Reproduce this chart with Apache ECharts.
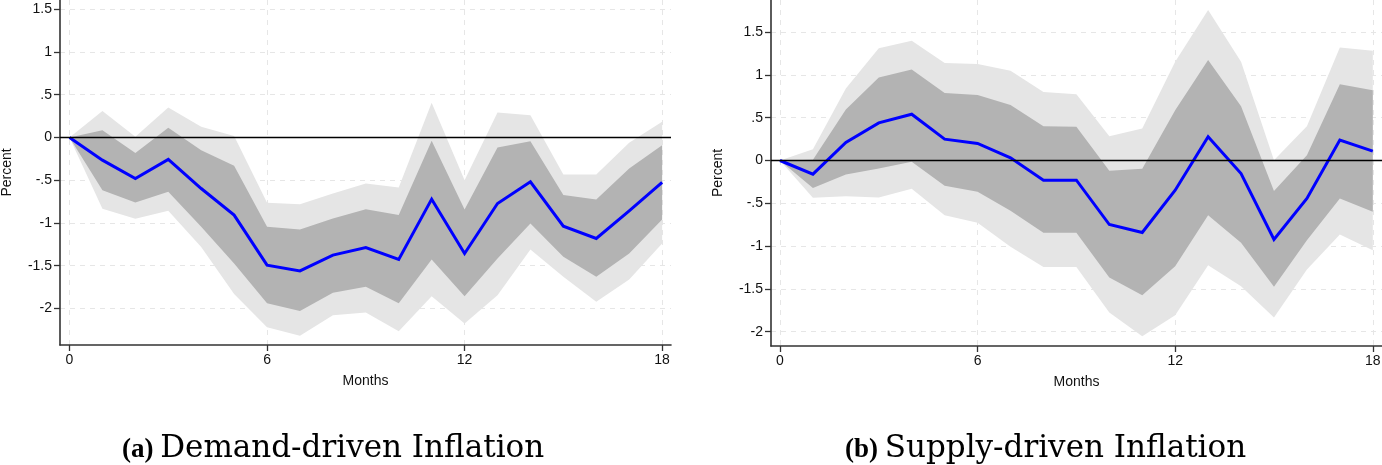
<!DOCTYPE html>
<html>
<head>
<meta charset="utf-8">
<script src="https://cdn.jsdelivr.net/npm/echarts@6/dist/echarts.min.js"></script>
<style>
  html, body { margin: 0; padding: 0; background: #fff; }
  #chart { width: 1382px; height: 465px; }
</style>
</head>
<body>
<div id="chart"></div>
<script>
// ---------------- data ----------------
const months = [0, 1, 2, 3, 4, 5, 6, 7, 8, 9, 10, 11, 12, 13, 14, 15, 16, 17, 18];
const xTickValues = [0, 6, 12, 18];

// (a) Demand-driven inflation
const demandIrf  = [0, -0.265, -0.48, -0.257, -0.597, -0.908, -1.493, -1.56, -1.376, -1.287, -1.427, -0.721, -1.357, -0.772, -0.519, -1.037, -1.181, -0.858, -0.526];
const demandHi68 = [0, 0.086, -0.18, 0.113, -0.148, -0.331, -1.045, -1.076, -0.947, -0.838, -0.908, -0.039, -0.842, -0.117, -0.043, -0.674, -0.725, -0.363, -0.09];
const demandLo68 = [0, -0.616, -0.76, -0.636, -1.045, -1.474, -1.94, -2.03, -1.817, -1.747, -1.94, -1.427, -1.856, -1.415, -1.006, -1.396, -1.63, -1.357, -0.959];
const demandHi90 = [0, 0.31, 0.01, 0.35, 0.125, 0.016, -0.764, -0.78, -0.655, -0.538, -0.585, 0.405, -0.499, 0.292, 0.261, -0.433, -0.433, -0.062, 0.183];
const demandLo90 = [0, -0.834, -0.95, -0.858, -1.28, -1.83, -2.22, -2.32, -2.08, -2.047, -2.265, -1.856, -2.175, -1.844, -1.31, -1.63, -1.922, -1.661, -1.24];
const demandYTicks = [-2, -1.5, -1, -0.5, 0, 0.5, 1, 1.5];

// (b) Supply-driven inflation
const supplyIrf  = [0, -0.16, 0.21, 0.44, 0.541, 0.249, 0.199, 0.031, -0.23, -0.23, -0.748, -0.841, -0.347, 0.277, -0.152, -0.923, -0.444, 0.238, 0.109];
const supplyHi68 = [0, 0.01, 0.596, 0.97, 1.063, 0.79, 0.764, 0.647, 0.40, 0.393, -0.12, -0.097, 0.588, 1.173, 0.635, -0.355, 0.062, 0.892, 0.822];
const supplyLo68 = [0, -0.32, -0.164, -0.093, -0.016, -0.296, -0.366, -0.588, -0.845, -0.845, -1.367, -1.574, -1.235, -0.639, -0.962, -1.476, -0.931, -0.444, -0.60];
const supplyHi90 = [0, 0.13, 0.84, 1.31, 1.40, 1.14, 1.126, 1.048, 0.80, 0.775, 0.284, 0.374, 1.153, 1.757, 1.153, 0.004, 0.40, 1.32, 1.282];
const supplyLo90 = [0, -0.436, -0.417, -0.432, -0.33, -0.639, -0.728, -1.009, -1.243, -1.243, -1.776, -2.053, -1.808, -1.223, -1.469, -1.835, -1.274, -0.865, -1.048];
const supplyYTicks = [-2, -1.5, -1, -0.5, 0, 0.5, 1, 1.5];

const captionTags = ['(a)', '(b)'];
const captionTitles = ['Demand-driven Inflation', 'Supply-driven Inflation'];
const xAxisTitle = 'Months';
const yAxisTitle = 'Percent';

// ---------------- chart ----------------
const chart = echarts.init(document.getElementById('chart'), null, { renderer: 'canvas' });

const LABEL_FONT = '"Liberation Sans", Arial, Helvetica, sans-serif';
const AXIS_COLOR = '#333';
const GRID_COLOR = '#e6e6e6';
const LIGHT_BAND = '#e5e5e5';
const DARK_BAND = '#b3b3b3';

function fmtY(v) {
  if (v === 0) return '0';
  return String(v).replace('0.', '.');
}

function bandSeries(idx, lo, hi, color, z) {
  return {
    type: 'custom',
    xAxisIndex: idx, yAxisIndex: idx,
    z: z,
    silent: true,
    clip: true,
    data: months.map((m, i) => [m, lo[i], hi[i]]),
    renderItem: function (params, api) {
      if (params.dataIndex !== 0) return null;
      const pts = [];
      for (let j = 0; j < months.length; j++) pts.push(api.coord([months[j], hi[j]]));
      for (let j = months.length - 1; j >= 0; j--) pts.push(api.coord([months[j], lo[j]]));
      return { type: 'polygon', shape: { points: pts }, style: { fill: color, stroke: null } };
    }
  };
}

function panelSeries(idx, irf, lo68, hi68, lo90, hi90) {
  return [
    bandSeries(idx, lo90, hi90, LIGHT_BAND, 1),
    bandSeries(idx, lo68, hi68, DARK_BAND, 2),
    {
      type: 'line',
      xAxisIndex: idx, yAxisIndex: idx,
      z: 3,
      silent: true,
      symbol: 'none',
      data: months.map((m, i) => [m, irf[i]]),
      lineStyle: { opacity: 0 },
      markLine: {
        silent: true,
        symbol: ['none', 'none'],
        label: { show: false },
        lineStyle: { color: '#000', width: 1.3, type: 'solid' },
        data: [{ yAxis: 0 }],
        animation: false
      }
    },
    {
      type: 'line',
      xAxisIndex: idx, yAxisIndex: idx,
      z: 4,
      silent: true,
      symbol: 'none',
      data: months.map((m, i) => [m, irf[i]]),
      lineStyle: { color: '#0000ff', width: 3, join: 'miter' }
    }
  ];
}

function xAxisCfg(idx, min, max) {
  return {
    type: 'value', gridIndex: idx, min: min, max: max,
    name: xAxisTitle, nameLocation: 'middle', nameGap: 29,
    nameTextStyle: { fontFamily: LABEL_FONT, fontSize: 14, color: '#111' },
    axisLine: { show: true, onZero: false, lineStyle: { color: AXIS_COLOR, width: 1.6 } },
    axisTick: { show: true, length: 6, customValues: xTickValues, lineStyle: { color: AXIS_COLOR, width: 1.3 } },
    axisLabel: { customValues: xTickValues, margin: 8, fontFamily: LABEL_FONT, fontSize: 14, color: '#111',
      showMinLabel: true, showMaxLabel: true },
    splitLine: { show: true, lineStyle: { color: GRID_COLOR, width: 1, type: [5, 5] } }
  };
}

function yAxisCfg(idx, min, max, ticks) {
  return {
    type: 'value', gridIndex: idx, min: min, max: max,
    name: yAxisTitle, nameLocation: 'middle', nameGap: 46, nameRotate: 90,
    nameTextStyle: { fontFamily: LABEL_FONT, fontSize: 14, color: '#111' },
    axisLine: { show: true, onZero: false, lineStyle: { color: AXIS_COLOR, width: 1.6 } },
    axisTick: { show: true, length: 6, customValues: ticks, lineStyle: { color: AXIS_COLOR, width: 1.3 } },
    axisLabel: { customValues: ticks, margin: 8, fontFamily: LABEL_FONT, fontSize: 14, color: '#111',
      formatter: fmtY, showMinLabel: true, showMaxLabel: true },
    splitLine: { show: true, lineStyle: { color: GRID_COLOR, width: 1, type: [5, 5] } }
  };
}

function caption(i, x) {
  return {
    type: 'text',
    x: x, y: 464,
    silent: true,
    style: {
      text: '{t|' + captionTags[i] + ' }{m|' + captionTitles[i] + '}',
      textVerticalAlign: 'bottom',
      verticalAlign: 'bottom',
      rich: {
        t: { fontFamily: '"Liberation Serif", "DejaVu Serif", serif', fontWeight: 'bold', fontSize: 27, fill: '#000', verticalAlign: 'bottom' },
        m: { fontFamily: '"DejaVu Serif", serif', fontSize: 31, fill: '#000', verticalAlign: 'bottom' }
      }
    }
  };
}

const option = {
  animation: false,
  backgroundColor: '#fff',
  grid: [
    { left: 60, top: 0, width: 611, height: 345, containLabel: false, outerBoundsMode: 'none' },
    { left: 771, top: 0, width: 611, height: 346, containLabel: false, outerBoundsMode: 'none' }
  ],
  xAxis: [xAxisCfg(0, -0.289, 18.27), xAxisCfg(1, -0.273, 18.28)],
  yAxis: [yAxisCfg(0, -2.427, 1.608, demandYTicks), yAxisCfg(1, -2.167, 1.875, supplyYTicks)],
  series: [].concat(
    panelSeries(0, demandIrf, demandLo68, demandHi68, demandLo90, demandHi90),
    panelSeries(1, supplyIrf, supplyLo68, supplyHi68, supplyLo90, supplyHi90)
  ),
  graphic: [caption(0, 122), caption(1, 845)]
};

chart.setOption(option);
</script>
</body>
</html>
